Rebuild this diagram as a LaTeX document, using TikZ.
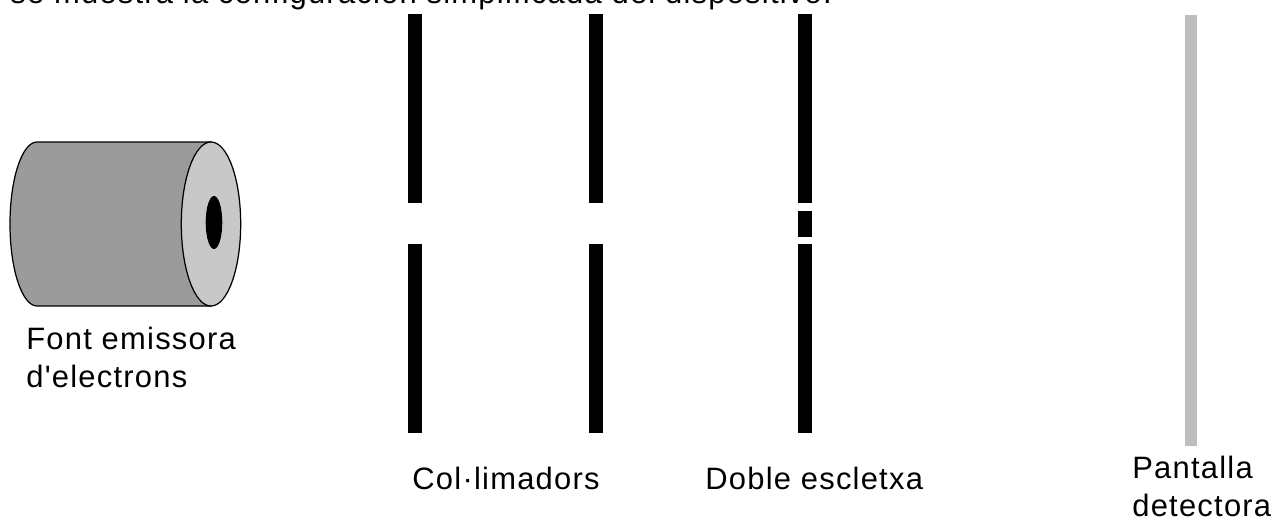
\documentclass[tikz,border=0pt]{standalone}
\usepackage{fontspec}
\newfontfamily\lblfont{Liberation Sans}[LetterSpace=4]

\definecolor{gunbody}{HTML}{9B9B9B}
\definecolor{gunface}{HTML}{C8C8C8}
\definecolor{screengray}{HTML}{BEBEBE}

\tikzset{
  lbl/.style={font=\lblfont\fontsize{17.6}{21.3}\selectfont, inner sep=0pt, align=left},
  plate/.style={fill=black},
}

\begin{document}
\begin{tikzpicture}[x=0.02cm,y=-0.02cm]
   \clip (0,0) rectangle (1276,524);
   \fill[white] (0,0) rectangle (1276,524);

   \node[lbl,anchor=base west] (intro) at (10,3.5)
        {se muestra la configuración simplificada del dispositivo.};

   % electron gun
   \filldraw[fill=gunbody,line width=0.7pt]
        (211,142) -- (37,142)
        arc[start angle=270,end angle=90,x radius=27,y radius=82]
        -- (211,306) -- cycle;
   \filldraw[fill=gunface,line width=0.7pt] (211,224) ellipse[x radius=29.7,y radius=82];
   \fill[black] (214,222.5) ellipse[x radius=8.3,y radius=26.5];

   % collimators
   \foreach \x in {408,589}
             {
               \fill[plate] (\x,14) rectangle (\x+14,203);
               \fill[plate] (\x,244) rectangle (\x+14,433);
             }

   % double slit
   \fill[plate] (798,14) rectangle (812,203);
   \fill[plate] (798,211) rectangle (812,237);
   \fill[plate] (798,244) rectangle (812,433);

   % screen
   \fill[screengray] (1185,15) rectangle (1197,446);

   % base of a two-line label is its last line
   \node[lbl,anchor=base west] (gun) at (26,387) {Font emissora\\d'electrons};
   \node[lbl,anchor=base] (coll) at (506,489) {Col·limadors};
   \node[lbl,anchor=base west] (slit) at (705,489) {Doble escletxa};
   \node[lbl,anchor=base west] (scr) at (1132,516) {Pantalla\\detectora};
\end{tikzpicture}
\end{document}
